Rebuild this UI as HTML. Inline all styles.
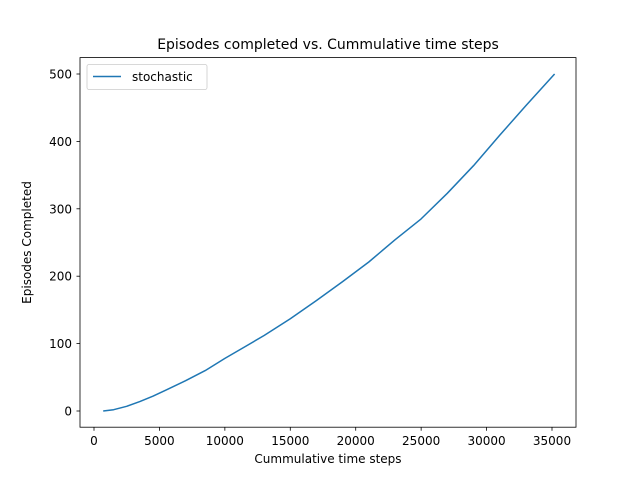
<!DOCTYPE html>
<html><head><meta charset="utf-8"><style>
body{margin:0;background:#fff;}
svg{font-family:"DejaVu Sans","Liberation Sans",sans-serif;}
</style></head><body>
<svg id="chart" width="640" height="480" xmlns="http://www.w3.org/2000/svg">
<rect width="640" height="480" fill="#fff"/>
<text x="328" y="49" font-size="14" text-anchor="middle">Episodes completed vs. Cummulative time steps</text>
<g id="axes"></g>
<path id="line" fill="none" stroke="#1f77b4" stroke-width="1.5" stroke-linejoin="round"/>
<rect x="80" y="57.6" width="496" height="369.6" fill="none" stroke="#000" stroke-width="0.8"/>
<g>
<rect x="87" y="64.5" width="120" height="25" rx="2" fill="#fff" stroke="#ccc" stroke-width="0.8"/>
<line x1="93" y1="76.5" x2="121" y2="76.5" stroke="#1f77b4" stroke-width="1.5"/>
<text x="132" y="81" font-size="12">stochastic</text>
</g>
<text x="328" y="463" font-size="12" text-anchor="middle">Cummulative time steps</text>
<text transform="translate(31,242.5) rotate(-90)" font-size="12" text-anchor="middle">Episodes Completed</text>
</svg>
<script>
const xValues=[700,1500,2500,3500,4500,5500,7000,8500,10000,11500,13000,15000,17000,19000,21000,23000,25000,27000,29000,31000,33000,35200];
const yValues=[0,2,7,14,22,31,45,60,78,95,112,137,164,192,221,254,285,323,364,409,453,500];
const xTicks=[0,5000,10000,15000,20000,25000,30000,35000];
const yTicks=[0,100,200,300,400,500];
function sx(v){return 94+v*(458/35000);}
function sy(v){return 411-v*(337/500);}
const ns="http://www.w3.org/2000/svg";
const ax=document.getElementById('axes');
function mk(t,a){const e=document.createElementNS(ns,t);for(const k in a)e.setAttribute(k,a[k]);return e;}
xTicks.forEach(t=>{
 const x=sx(t);
 const l=mk('line',{x1:x,y1:427.2,x2:x,y2:430.7,stroke:'#000','stroke-width':0.8});
 
 
 ax.appendChild(l);
 const tx=mk('text',{x:x,y:445,'font-size':12,'text-anchor':'middle'});
 
 
 tx.textContent=t;ax.appendChild(tx);
});
yTicks.forEach(t=>{
 const y=sy(t);
 const l=mk('line',{x1:76.5,y1:y,x2:80,y2:y,stroke:'#000','stroke-width':0.8});
 
 
 ax.appendChild(l);
 const tx=mk('text',{x:72,y:y+4.5,'font-size':12,'text-anchor':'end'});
 
 
 tx.textContent=t;ax.appendChild(tx);
});
document.getElementById('line').setAttribute('d',xValues.map((v,i)=>(i?'L':'M')+sx(v).toFixed(1)+','+sy(yValues[i]).toFixed(1)).join(''));
</script>
</body></html>
